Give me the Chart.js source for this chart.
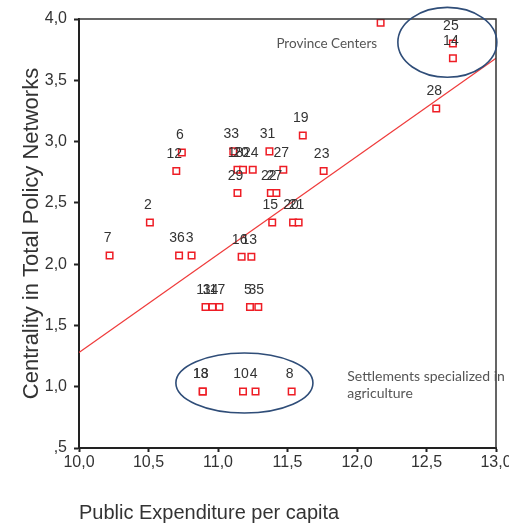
<!DOCTYPE html>
<html>
<head>
<meta charset="utf-8">
<script src="https://cdn.jsdelivr.net/npm/chart.js@4/dist/chart.umd.min.js"></script>
<style>
  html, body { margin: 0; padding: 0; background: #fff; }
  #wrap { width: 509px; height: 526px; }
</style>
</head>
<body>
<div id="wrap"><canvas id="scatter"></canvas></div>
<script>
// case labels, public expenditure per capita (x), centrality (y)
const CASE_LABELS = ['7', '2', '36', '3', '16', '13', '6', '12', '33', '31', '19',
  '18', '20', '24', '27', '23', '29', '22', '27', '15', '20', '21',
  '11', '34', '17', '5', '35', '13', '18', '10', '4', '8', '28', '25', '14', ''];
const EXPENDITURE = [10.22, 10.51, 10.72, 10.81, 11.17, 11.24, 10.74, 10.70, 11.11, 11.37, 11.61,
  11.14, 11.18, 11.25, 11.47, 11.76, 11.14, 11.38, 11.42, 11.39, 11.54, 11.58,
  10.91, 10.96, 11.01, 11.23, 11.29, 10.89, 10.89, 11.18, 11.27, 11.53, 12.57, 12.69, 12.69, 12.17];
const CENTRALITY = [2.07, 2.34, 2.07, 2.07, 2.06, 2.06, 2.91, 2.76, 2.92, 2.92, 3.05,
  2.77, 2.77, 2.77, 2.77, 2.76, 2.58, 2.58, 2.58, 2.34, 2.34, 2.34,
  1.65, 1.65, 1.65, 1.65, 1.65, 0.96, 0.96, 0.96, 0.96, 0.96, 3.27, 3.80, 3.68, 3.97];

// linear fit line
const FIT_X = [10.0, 13.0];
const FIT_Y = [1.28, 3.68];

// circled groups and their notes (data units)
const GROUPS = [
  { cx: 12.65, cy: 3.81, rx: 0.356, ry: 0.285 },
  { cx: 11.19, cy: 1.03, rx: 0.493, ry: 0.245 }
];
const NOTES = [
  { x: 11.42, y: 3.80, lines: ['Province Centers'] },
  { x: 11.93, y: 1.08, lines: ['Settlements specialized in', 'agriculture'] }
];

const fmt = v => {
  const s = Number(v).toFixed(1).replace('.', ',');
  return s.startsWith('0,') ? s.slice(1) : s;
};

const caseLabels = {
  id: 'caseLabels',
  afterDatasetsDraw(chart) {
    const ctx = chart.ctx;
    const meta = chart.getDatasetMeta(0);
    ctx.save();
    ctx.font = '14px "Liberation Sans", Arial, sans-serif';
    ctx.fillStyle = '#333';
    ctx.textAlign = 'center';
    ctx.textBaseline = 'middle';
    meta.data.forEach((pt, i) => {
      if (CASE_LABELS[i]) ctx.fillText(CASE_LABELS[i], pt.x - 2, pt.y - 17);
    });
    ctx.restore();
  }
};

const frameAndNotes = {
  id: 'frameAndNotes',
  afterDraw(chart) {
    const ctx = chart.ctx;
    const xs = chart.scales.x, ys = chart.scales.y;
    const a = chart.chartArea;
    ctx.save();
    ctx.strokeStyle = '#333';
    ctx.lineWidth = 1.5;
    ctx.beginPath();
    ctx.moveTo(a.left, a.top);
    ctx.lineTo(a.right, a.top);
    ctx.lineTo(a.right, a.bottom);
    ctx.stroke();

    ctx.strokeStyle = '#2f4d78';
    ctx.lineWidth = 1.6;
    GROUPS.forEach(g => {
      const cx = xs.getPixelForValue(g.cx), cy = ys.getPixelForValue(g.cy);
      const rx = xs.getPixelForValue(g.cx + g.rx) - cx;
      const ry = cy - ys.getPixelForValue(g.cy + g.ry);
      ctx.beginPath();
      ctx.ellipse(cx, cy, rx, ry, 0, 0, Math.PI * 2);
      ctx.stroke();
    });

    ctx.fillStyle = '#555';
    ctx.textAlign = 'left';
    ctx.textBaseline = 'middle';
    NOTES.forEach((n, j) => {
      ctx.font = (j === 0 ? '13.5px' : '14px') + ' Lato, "Open Sans", sans-serif';
      const x = xs.getPixelForValue(n.x), y = ys.getPixelForValue(n.y);
      n.lines.forEach((t, k) => ctx.fillText(t, x, y + k * 17));
    });
    ctx.restore();
  }
};

new Chart(document.getElementById('scatter'), {
  type: 'scatter',
  data: {
    datasets: [
      {
        label: 'Cases',
        data: EXPENDITURE.map((x, i) => ({ x, y: CENTRALITY[i] })),
        pointStyle: 'rect',
        pointRadius: 4.6,
        pointHoverRadius: 4.6,
        borderColor: '#ee1d25',
        backgroundColor: '#fff',
        borderWidth: 1.5,
      },
      {
        type: 'line',
        label: 'Fit',
        data: FIT_X.map((x, i) => ({ x, y: FIT_Y[i] })),
        borderColor: '#ef3b3b',
        borderWidth: 1.2,
        pointRadius: 0,
        fill: false,
      },
    ],
  },
  options: {
    responsive: true,
    maintainAspectRatio: false,
    animation: false,
    layout: { padding: { left: 0, right: 13, top: 19, bottom: 0 } },
    plugins: {
      legend: { display: false },
      tooltip: { enabled: false },
    },
    scales: {
      x: {
        type: 'linear',
        min: 10,
        max: 13,
        afterFit: s => { s.height = 78; s.paddingLeft = 0; s.paddingRight = 0; },
        border: { color: '#222', width: 2 },
        grid: { drawOnChartArea: false, tickLength: 4, tickColor: '#222', tickWidth: 2 },
        ticks: {
          stepSize: 0.5,
          padding: 1,
          color: '#333',
          maxRotation: 0,
          font: { family: '"Liberation Sans", Arial, sans-serif', size: 16 },
          callback: v => fmt(v),
        },
        title: {
          display: true,
          text: 'Public Expenditure per capita',
          align: 'start',
          color: '#333',
          padding: { top: 0, bottom: 1 },
          font: { family: '"Liberation Sans", Arial, sans-serif', size: 20 },
        },
      },
      y: {
        min: 0.5,
        max: 4.0,
        afterFit: s => { s.width = 79; },
        border: { color: '#222', width: 2 },
        grid: { drawOnChartArea: false, tickLength: 5, tickColor: '#222', tickWidth: 2 },
        ticks: {
          stepSize: 0.5,
          padding: 7,
          color: '#333',
          font: { family: '"Liberation Sans", Arial, sans-serif', size: 16 },
          callback: v => fmt(v),
        },
        title: {
          display: true,
          text: 'Centrality in Total Policy Networks',
          color: '#333',
          padding: { top: 19, bottom: 0 },
          font: { family: '"Liberation Sans", Arial, sans-serif', size: 22 },
        },
      },
    },
  },
  plugins: [caseLabels, frameAndNotes],
});
</script>
</body>
</html>
